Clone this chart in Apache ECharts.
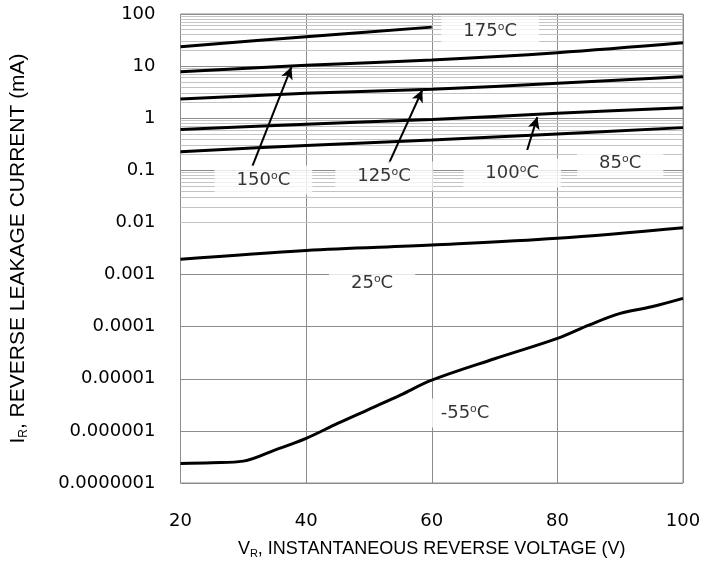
<!DOCTYPE html>
<html>
<head>
<meta charset="utf-8">
<script src="https://cdn.jsdelivr.net/npm/echarts@6/dist/echarts.min.js"></script>
<style>
  html, body { margin: 0; padding: 0; background: #fff; }
  #main { width: 720px; height: 565px; }
</style>
</head>
<body>
<div id="main"></div>
<script>
// x ticks (V)
var xTicks = [20, 40, 60, 80, 100]
// reverse leakage current (mA) vs voltage, per temperature
var t175 = [[20, 23.6], [40, 36.7], [60, 56]]
var t150 = [[20, 7.8], [40, 10.4], [60, 13.1], [80, 18.1], [100, 28]]
var t125 = [[20, 2.33], [40, 3.0], [60, 3.59], [80, 4.68], [100, 6.26]]
var t100 = [[20, 0.61], [40, 0.77], [60, 0.95], [80, 1.24], [100, 1.59]]
var t85 = [[20, 0.228], [40, 0.30], [60, 0.38], [80, 0.50], [100, 0.66]]
var t25 = [[20, 0.00196], [40, 0.0029], [60, 0.00369], [80, 0.00495], [100, 0.0079]]
var tm55 = [[20, 2.38e-7], [25, 2.45e-7], [30, 2.63e-7], [35, 4.28e-7], [40, 7.2e-7],
  [45, 1.39e-6], [50, 2.6e-6], [55, 4.87e-6], [60, 9.4e-6], [70, 2.42e-5],
  [80, 5.96e-5], [85, 1.07e-4], [90, 1.8e-4], [95, 2.41e-4], [100, 3.49e-4]]

// temperature labels [V, mA, text]
var tempLabels = [
  [69.3, 47.2, '175'],
  [33.2, 0.065, '150'],
  [52.4, 0.078, '125'],
  [72.8, 0.089, '100'],
  [90, 0.138, '85'],
  [50.5, 0.00069, '25'],
  [65.3, 0.0000022, '-55']
]
// arrows [tail, head]
var arrows = [
  [[31.45, 0.121], [37.65, 9.6]],
  [[53.2, 0.138], [58.5, 3.48]],
  [[75.2, 0.245], [76.8, 1.05]]
]

// minor log grid: 2..9 in each decade
var minorVals = []
for (var e = -7; e < 2; e++) {
  for (var m = 2; m <= 9; m++) minorVals.push(m * Math.pow(10, e))
}

function fmtY(v) {
  var e = Math.round(Math.log10(v))
  return e >= 0 ? String(Math.round(v)) : v.toFixed(-e)
}

var font = 'Liberation Sans, Arial, sans-serif'
var numFont = 'DejaVu Sans, sans-serif'
var myChart = echarts.init(document.getElementById('main'))

function curve(data) {
  return {
    type: 'line',
    data: data,
    smooth: 0.35,
    symbol: 'none',
    z: 5,
    lineStyle: { color: '#000', width: 3 }
  }
}

myChart.setOption({
  animation: false,
  textStyle: { fontFamily: font },
  grid: {
    left: 180, right: 37, top: 14, bottom: 82,
    show: true, borderColor: '#8c8c8c', borderWidth: 1
  },
  xAxis: {
    type: 'value',
    min: 20, max: 100, interval: 20,
    axisLine: { show: false },
    axisTick: { show: false },
    axisLabel: { fontSize: 18, color: '#000', margin: 29, fontFamily: numFont },
    splitLine: { show: true, lineStyle: { color: '#8c8c8c', width: 1 } },
    name: 'V{sub|R}, INSTANTANEOUS REVERSE VOLTAGE (V)',
    nameLocation: 'middle',
    nameGap: 56,
    nameTextStyle: {
      fontSize: 18, color: '#000', fontFamily: font,
      rich: { sub: { fontSize: 11, padding: [9, 0, 0, 0], fontFamily: font, color: '#000' } }
    }
  },
  yAxis: {
    type: 'log',
    logBase: 10,
    min: 1e-7, max: 100,
    axisLine: { show: false },
    axisTick: { show: false },
    axisLabel: { fontSize: 18, color: '#000', margin: 25, fontFamily: numFont, formatter: fmtY },
    splitLine: { show: true, lineStyle: { color: '#8c8c8c', width: 1 } },
    name: 'I{sub|R}, REVERSE LEAKAGE CURRENT (mA)',
    nameLocation: 'middle',
    nameGap: 151,
    nameTextStyle: {
      fontSize: 21, color: '#000', fontFamily: font,
      rich: { sub: { fontSize: 12, padding: [10, 0, 0, 0], fontFamily: font, color: '#000' } }
    }
  },
  series: [
    {
      // minor log grid lines
      type: 'line',
      data: [],
      z: 1,
      silent: true,
      markLine: {
        silent: true,
        z: 1,
        symbol: 'none',
        label: { show: false },
        lineStyle: { color: '#c4c4c4', width: 1, type: 'solid' },
        data: minorVals.map(function (v) { return { yAxis: v } })
      }
    },
    curve(t175),
    curve(t150),
    curve(t125),
    curve(t100),
    curve(t85),
    curve(t25),
    curve(tm55),
    {
      // arrows
      type: 'line',
      data: [],
      z: 6,
      silent: true,
      markLine: {
        silent: true,
        z: 6,
        symbol: ['none', 'arrow'],
        symbolSize: [9, 12],
        label: { show: false },
        lineStyle: { color: '#000', width: 2, type: 'solid' },
        data: arrows.map(function (a) {
          return [{ coord: a[0] }, { coord: a[1] }]
        })
      }
    },
    {
      type: 'scatter',
      data: tempLabels,
      symbolSize: 0,
      z: 10,
      silent: true,
      label: {
        show: true,
        position: 'inside',
        fontSize: 18,
        color: '#000',
        fontFamily: numFont,
        backgroundColor: '#fff',
        padding: [5, 22, 5, 22],
        formatter: function (p) { return p.data[2] + '{s|o}C' },
        rich: { s: { fontSize: 11, padding: [0, 0, 8, 0], color: '#000', fontFamily: numFont } }
      }
    }
  ]
})
</script>
</body>
</html>
